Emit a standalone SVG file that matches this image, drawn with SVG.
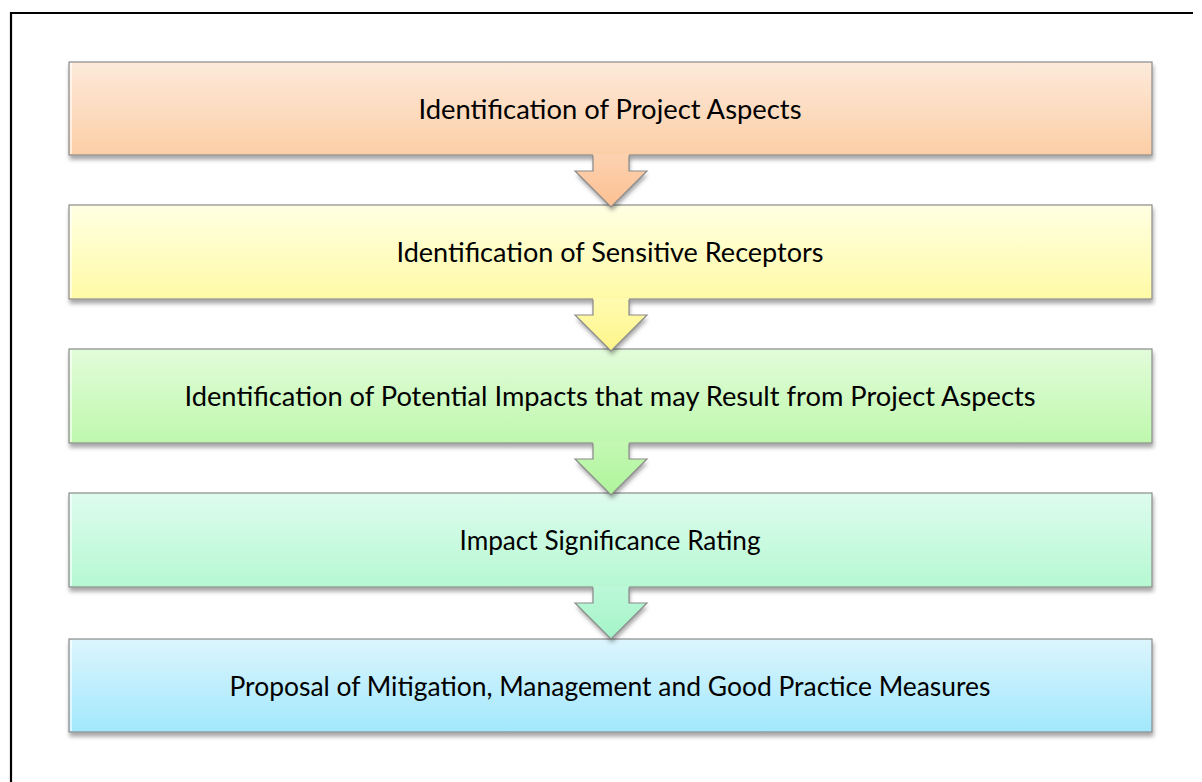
<svg xmlns="http://www.w3.org/2000/svg" width="1202" height="782" viewBox="0 0 1202 782">
<style>
.box{stroke:#8a8a8a;stroke-width:1.2;filter:url(#sh)}
.hl{stroke:#ffffff;stroke-width:1.5;fill:none;opacity:0.8}
.lbl{font-family:Lato,"Noto Sans","Liberation Sans",sans-serif;font-size:27px;fill:#000;text-anchor:middle}
.arw{stroke:none;filter:url(#sh)}
.arwl{fill:none;stroke:#8a8a8a;stroke-width:1.2}
</style>
<defs>
<filter id="sh" x="-5%" y="-20%" width="110%" height="150%">
<feGaussianBlur in="SourceAlpha" stdDeviation="2.2"/>
<feOffset dx="1" dy="4" result="b"/>
<feComponentTransfer><feFuncA type="linear" slope="0.35"/></feComponentTransfer>
<feMerge><feMergeNode/><feMergeNode in="SourceGraphic"/></feMerge>
</filter>
<linearGradient id="g1" x1="0" y1="0" x2="0" y2="1"><stop offset="0" stop-color="#fdeadb"/><stop offset="1" stop-color="#fcceA6"/></linearGradient>
<linearGradient id="g2" x1="0" y1="0" x2="0" y2="1"><stop offset="0" stop-color="#ffffe2"/><stop offset="1" stop-color="#fffaa6"/></linearGradient>
<linearGradient id="g3" x1="0" y1="0" x2="0" y2="1"><stop offset="0" stop-color="#e2fcda"/><stop offset="1" stop-color="#bff8ad"/></linearGradient>
<linearGradient id="g4" x1="0" y1="0" x2="0" y2="1"><stop offset="0" stop-color="#defcee"/><stop offset="1" stop-color="#b6f8d2"/></linearGradient>
<linearGradient id="g5" x1="0" y1="0" x2="0" y2="1"><stop offset="0" stop-color="#dcf5fd"/><stop offset="1" stop-color="#a2e8fd"/></linearGradient>
<linearGradient id="a1" x1="0" y1="0" x2="0" y2="1"><stop offset="0" stop-color="#fcd2b0"/><stop offset="1" stop-color="#fcc092"/></linearGradient>
<linearGradient id="a2" x1="0" y1="0" x2="0" y2="1"><stop offset="0" stop-color="#fffbb0"/><stop offset="1" stop-color="#fff58a"/></linearGradient>
<linearGradient id="a3" x1="0" y1="0" x2="0" y2="1"><stop offset="0" stop-color="#c4f8b4"/><stop offset="1" stop-color="#aef49a"/></linearGradient>
<linearGradient id="a4" x1="0" y1="0" x2="0" y2="1"><stop offset="0" stop-color="#bcf8d8"/><stop offset="1" stop-color="#a4f4c8"/></linearGradient>
</defs>
<rect width="1202" height="782" fill="#ffffff"/>
<path d="M11,782 L11,13 L1193,13" fill="none" stroke="#000" stroke-width="2.2"/>

<g id="node1">
<rect class="box" x="69" y="62" width="1083" height="93" fill="url(#g1)"/>
<line class="hl" x1="71" y1="63" x2="71" y2="154"/>
<text class="lbl" x="610" y="119" textLength="383" lengthAdjust="spacingAndGlyphs">Identification of Project Aspects</text>
</g>
<g id="node2">
<rect class="box" x="69" y="205" width="1083" height="94" fill="url(#g2)"/>
<line class="hl" x1="71" y1="206" x2="71" y2="298"/>
<text class="lbl" x="610" y="262" textLength="427" lengthAdjust="spacingAndGlyphs">Identification of Sensitive Receptors</text>
</g>
<g id="node3">
<rect class="box" x="69" y="349" width="1083" height="94" fill="url(#g3)"/>
<line class="hl" x1="71" y1="350" x2="71" y2="442"/>
<text class="lbl" x="610" y="406" textLength="851" lengthAdjust="spacingAndGlyphs">Identification of Potential Impacts that may Result from Project Aspects</text>
</g>
<g id="node4">
<rect class="box" x="69" y="493" width="1083" height="94" fill="url(#g4)"/>
<line class="hl" x1="71" y1="494" x2="71" y2="586"/>
<text class="lbl" x="610" y="550" textLength="301" lengthAdjust="spacingAndGlyphs">Impact Significance Rating</text>
</g>
<g id="node5">
<rect class="box" x="69" y="639" width="1083" height="93" fill="url(#g5)"/>
<line class="hl" x1="71" y1="640" x2="71" y2="731"/>
<text class="lbl" x="610" y="696" textLength="761" lengthAdjust="spacingAndGlyphs">Proposal of Mitigation, Management and Good Practice Measures</text>
</g>

<g id="connectors">
<g>
<polygon class="arw" fill="url(#a1)" points="593,154 593,171 575,171 611,207 647,171 629,171 629,154"/>
<polyline class="arwl" points="593,155.6 593,171 575,171 611,207 647,171 629,171 629,155.6"/>
</g>
<g>
<polygon class="arw" fill="url(#a2)" points="593,298 593,315 575,315 611,351 647,315 629,315 629,298"/>
<polyline class="arwl" points="593,299.6 593,315 575,315 611,351 647,315 629,315 629,299.6"/>
</g>
<g>
<polygon class="arw" fill="url(#a3)" points="593,442 593,459 575,459 611,495 647,459 629,459 629,442"/>
<polyline class="arwl" points="593,443.6 593,459 575,459 611,495 647,459 629,459 629,443.6"/>
</g>
<g>
<polygon class="arw" fill="url(#a4)" points="593,586 593,603 575,603 611,639 647,603 629,603 629,586"/>
<polyline class="arwl" points="593,587.6 593,603 575,603 611,639 647,603 629,603 629,587.6"/>
</g>
</g>
</svg>
